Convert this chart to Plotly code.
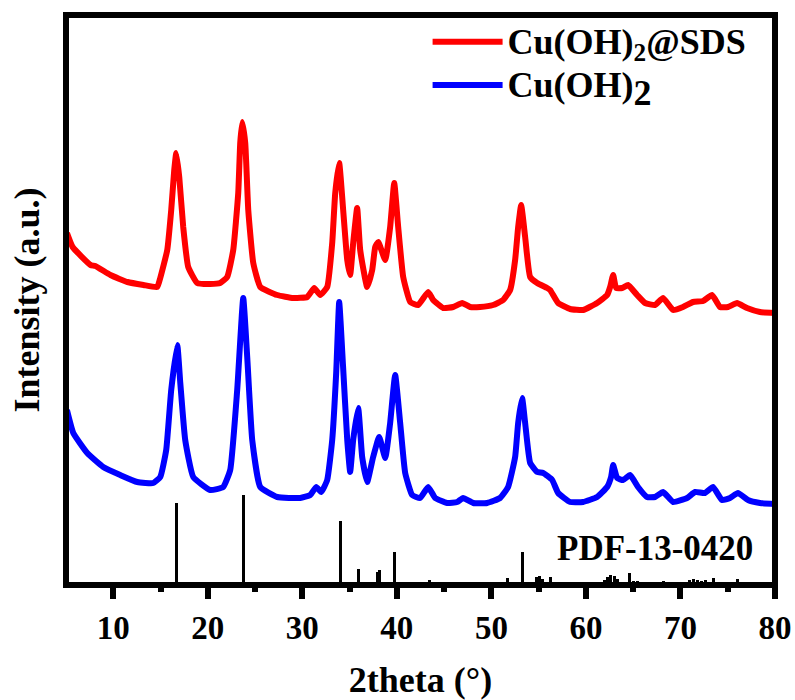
import plotly.graph_objects as go

# ---- data (2theta in degrees, intensity in arbitrary units) ----
two_theta_sds = [5.1, 5.7, 7.6, 8.1, 9.7, 11.5, 13.2, 14.65, 14.97, 15.71, 16.13, 16.45, 16.66,
                 16.98, 17.4, 17.93, 18.88, 20.26, 21.31, 22.05, 22.69, 23.22, 23.43, 23.64,
                 23.96, 24.28, 24.81, 25.55, 27.34, 29.04, 30.52, 31.26, 31.89, 32.63, 33.16,
                 33.48, 33.9, 34.32, 34.75, 35.06, 35.38, 35.8, 36.12, 36.86, 37.39, 37.71,
                 38.03, 38.77, 39.29, 39.72, 40.14, 40.67, 41.41, 42.25, 43.31, 43.84, 44.9,
                 45.96, 46.91, 47.75, 48.81, 50.18, 51.24, 51.98, 52.51, 52.83, 53.15, 53.57,
                 54.1, 54.84, 55.9, 56.21, 57.06, 58.33, 59.7, 61.18, 62.24, 62.56, 62.88,
                 63.19, 63.83, 64.46, 65.41, 66.26, 67.31, 68.16, 69.22, 70.27, 71.33, 72.39,
                 73.34, 74.18, 75.03, 75.98, 77.04, 78.41, 80.0]
intensity_sds = [352, 338, 320, 319, 310, 303, 300, 298, 307, 335, 375, 415, 432,
                 408, 358, 318, 302, 301, 302, 308, 335, 392, 442, 463,
                 442, 375, 322, 298, 290, 287, 288, 297, 290, 298, 342,
                 392, 422, 375, 325, 310, 342, 377, 335, 298, 315, 338,
                 343, 325, 358, 402, 358, 308, 283, 280, 293, 285, 277,
                 278, 282, 278, 278, 280, 285, 295, 325, 358, 380, 348,
                 308, 302, 297, 295, 282, 276, 275, 282, 290, 298, 310,
                 297, 297, 300, 290, 282, 280, 287, 275, 278, 283, 284,
                 290, 278, 278, 282, 277, 273, 272]

two_theta_pure = [5.1, 5.77, 7.25, 8.94, 10.74, 12.54, 14.23, 14.97, 15.6, 16.13, 16.77, 17.09,
                  17.61, 18.46, 20.26, 21.63, 22.37, 23.11, 23.75, 24.17, 24.7, 25.55, 27.34,
                  29.78, 30.84, 31.47, 32.0, 32.63, 33.16, 33.58, 33.9, 34.3, 34.75, 35.06,
                  35.38, 35.91, 36.33, 36.86, 37.49, 38.13, 38.77, 39.29, 39.82, 40.35, 40.88,
                  41.62, 42.46, 43.31, 44.05, 45.32, 46.38, 47.01, 48.07, 49.55, 50.92, 51.77,
                  52.51, 52.83, 53.25, 53.57, 54.1, 54.84, 55.48, 56.43, 57.06, 58.33, 59.7,
                  61.18, 62.24, 62.66, 62.88, 63.3, 63.93, 64.67, 65.51, 66.46, 67.31, 68.16,
                  69.22, 70.7, 71.54, 72.59, 73.44, 74.39, 75.24, 76.08, 77.14, 78.41, 80.0]
intensity_pure = [175, 152, 132, 118, 110, 103, 102, 108, 135, 195, 240, 202,
                  145, 108, 95, 98, 115, 195, 287, 228, 145, 98, 88,
                  87, 90, 98, 93, 105, 145, 212, 283, 220, 145, 113,
                  145, 177, 128, 103, 128, 148, 127, 162, 210, 162, 112,
                  90, 87, 98, 87, 82, 83, 87, 82, 82, 87, 98,
                  128, 162, 187, 162, 122, 113, 112, 105, 92, 83, 83,
                  88, 98, 108, 120, 107, 105, 110, 98, 88, 88, 93,
                  83, 87, 93, 92, 98, 85, 87, 92, 85, 82, 81]

pdf_pos = [16.64, 23.75, 31.3, 34.0, 35.9, 37.9, 38.2, 39.7, 43.5, 47.0, 48.8, 51.7, 53.25,
           54.8, 55.1, 55.4, 56.2, 62.0, 62.3, 62.6, 63.0, 63.3, 64.6, 65.0, 65.5, 67.2,
           68.2, 69.5, 71.0, 71.4, 71.8, 72.2, 72.6, 73.5, 74.3, 76.0, 77.7]
pdf_int = [82, 90, 3, 64, 16, 13, 15, 33, 5, 2, 2, 7, 33,
           8, 9, 6, 8, 5, 8, 10, 9, 6, 12, 4, 4, 2,
           4, 2, 5, 6, 5, 4, 5, 7, 3, 6, 3]

x_ticks = [10, 20, 30, 40, 50, 60, 70, 80]
x_minor = [15, 25, 35, 45, 55, 65, 75]
x_range = [5, 80]
y_range = [0, 570]

FONT = "Liberation Serif"

fig = go.Figure()
fig.add_trace(go.Bar(
    x=pdf_pos, y=pdf_int, width=0.32,
    marker=dict(color="black", line=dict(width=0)),
    showlegend=False, hoverinfo="skip"))
fig.add_trace(go.Scatter(
    x=two_theta_sds, y=intensity_sds, mode="lines",
    name="<span style='font-size:36px'>Cu(OH)<sub>2</sub>@SDS</span>",
    line=dict(color="#ff0000", width=6, shape="spline", smoothing=0.4)))
fig.add_trace(go.Scatter(
    x=two_theta_pure, y=intensity_pure, mode="lines",
    name="<span style='font-size:36px'>Cu(OH)<sub><span style='font-size:36px'>2</span></sub></span>",
    line=dict(color="#0000ff", width=6, shape="spline", smoothing=0.4)))

fig.add_annotation(
    x=67.3, y=37, xref="x", yref="y", text="PDF-13-0420", showarrow=False,
    font=dict(family=FONT, size=35, color="black", weight="bold"))

# frame
fig.add_shape(type="rect", xref="paper", yref="paper", x0=0, y0=0, x1=1, y1=1,
              line=dict(color="black", width=6), layer="above")

fig.update_layout(
    width=795, height=700,
    margin=dict(l=66, r=20, t=15, b=115, autoexpand=False),
    paper_bgcolor="white", plot_bgcolor="white",
    font=dict(family=FONT, color="black", weight="bold"),
    bargap=0,
    legend=dict(
        x=0.51, y=1.0, xanchor="left", yanchor="top",
        font=dict(family=FONT, size=31, color="black", weight="bold"),
        bgcolor="rgba(0,0,0,0)", itemwidth=70, tracegroupgap=0),
    xaxis=dict(
        range=x_range, tickvals=x_ticks, ticktext=[str(v) for v in x_ticks],
        showline=False, showgrid=False, zeroline=False,
        ticks="outside", ticklen=13, tickwidth=6, tickcolor="black",
        minor=dict(ticks="outside", ticklen=6, tickwidth=6, tickcolor="black",
                   tickvals=x_minor, showgrid=False),
        tickfont=dict(family=FONT, size=33, color="black", weight="bold"),
        title=dict(text="2theta (°)", standoff=31,
                   font=dict(family=FONT, size=36, color="black", weight="bold")),
        automargin=False),
    yaxis=dict(
        range=y_range, showline=False, showgrid=False, zeroline=False,
        showticklabels=False, ticks="",
        title=dict(text="Intensity (a.u.)", standoff=14,
                   font=dict(family=FONT, size=36, color="black", weight="bold")),
        automargin=False),
)

fig.write_html("out.html")
